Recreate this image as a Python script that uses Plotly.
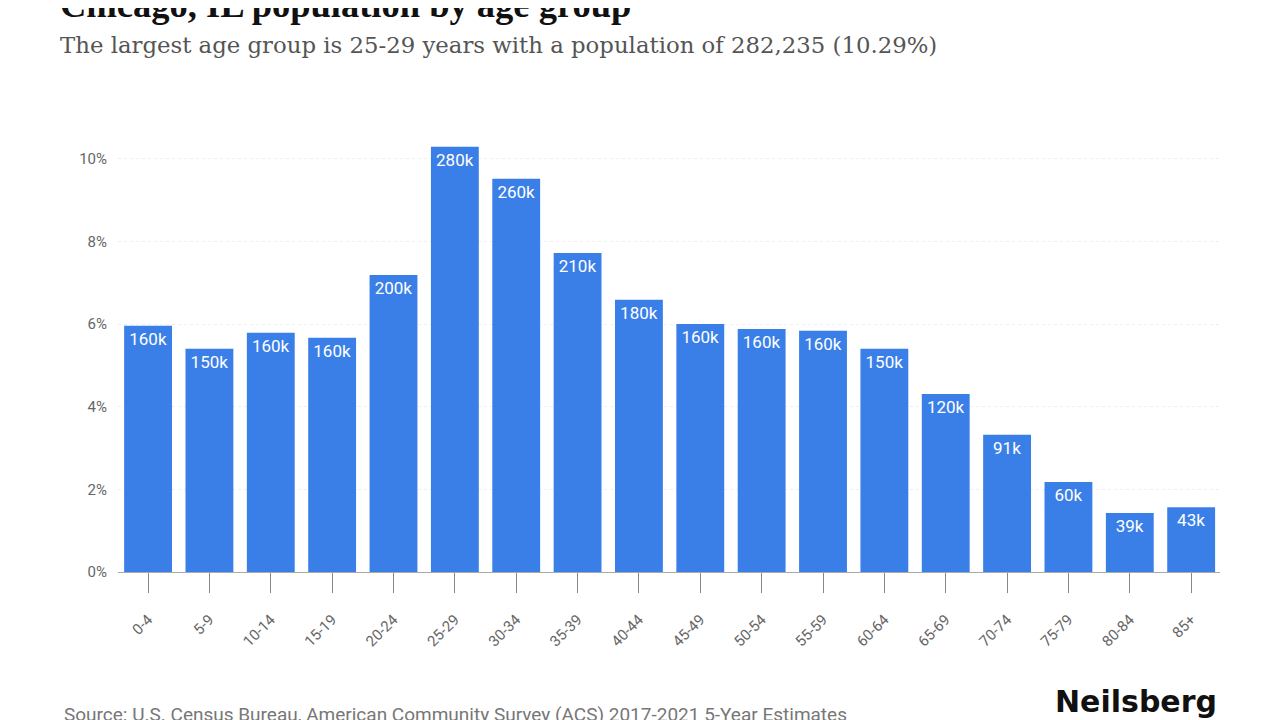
import plotly.graph_objects as go

age_groups = ["0-4", "5-9", "10-14", "15-19", "20-24", "25-29", "30-34", "35-39", "40-44",
              "45-49", "50-54", "55-59", "60-64", "65-69", "70-74", "75-79", "80-84", "85+"]
share_pct = [5.96, 5.40, 5.79, 5.67, 7.19, 10.29, 9.52, 7.72, 6.59,
             6.00, 5.88, 5.84, 5.40, 4.31, 3.32, 2.18, 1.43, 1.57]
bar_labels = ["160k", "150k", "160k", "160k", "200k", "280k", "260k", "210k", "180k",
              "160k", "160k", "160k", "150k", "120k", "91k", "60k", "39k", "43k"]
y_ticks = [0, 2, 4, 6, 8, 10]
y_tick_text = ["0%", "2%", "4%", "6%", "8%", "10%"]

title = "Chicago, IL population by age group"
subtitle = "The largest age group is 25-29 years with a population of 282,235 (10.29%)"
source = "Source: U.S. Census Bureau, American Community Survey (ACS) 2017-2021 5-Year Estimates"
brand = "Neilsberg"

# The page body adds an 8px offset; work in screen pixels and convert.
OFF = 8
FW, FH = 1279 - OFF, 720 - OFF
# plot area in screen pixels: x 118..1220, y 134..572
SL, SR, ST, SB = 118, 1220, 134, 572
L, T = SL - OFF, ST - OFF
R = FW - (SR - OFF)
B = FH - (SB - OFF)
W, H = FW - L - R, FH - T - B


def px(x):
    return (x - OFF - L) / W


def py(y):
    return (FH - B - (y - OFF)) / H


fig = go.Figure(go.Bar(
    x=age_groups, y=share_pct, text=bar_labels,
    textposition="inside", insidetextanchor="end", textangle=0,
    textfont=dict(color="white", size=17, family="Roboto"),
    marker=dict(color="#3A7FE8", line=dict(width=0)),
    width=0.78, hoverinfo="skip",
))

fig.update_layout(
    width=FW, height=FH,
    margin=dict(l=L, r=R, t=T, b=B),
    paper_bgcolor="white", plot_bgcolor="white",
    showlegend=False,
    uniformtext=dict(minsize=17, mode="show"),
    xaxis=dict(
        automargin=False,
        tickangle=-45, tickfont=dict(size=15, color="#666666", family="Roboto"),
        ticklabelstandoff=12,
        showline=True, linecolor="#aaaaaa", linewidth=1,
        ticks="outside", ticklen=20, tickcolor="#888888",
        showgrid=False, range=[-0.49, 17.47],
    ),
    yaxis=dict(
        automargin=False,
        range=[0, 10.6], tickvals=y_ticks, ticktext=y_tick_text,
        tickfont=dict(size=15, color="#666666", family="Roboto"),
        ticklabelstandoff=10,
        showgrid=True, gridcolor="#eeeeee", griddash="dot", zeroline=False,
        ticks="", showline=False,
    ),
    annotations=[
        dict(text="<b>" + title + "</b>", x=px(58), y=py(5), xref="paper", yref="paper",
             xanchor="left", yanchor="middle", showarrow=False,
             font=dict(size=36.5, color="#111111", family="Liberation Serif")),
        dict(text=subtitle, x=px(58), y=py(45), xref="paper", yref="paper",
             xanchor="left", yanchor="middle", showarrow=False,
             font=dict(size=22.8, color="#555555", family="DejaVu Serif")),
        dict(text=source, x=px(62), y=py(714), xref="paper", yref="paper",
             xanchor="left", yanchor="middle", showarrow=False,
             font=dict(size=19, color="#777777", family="Roboto")),
        dict(text="<b>" + brand + "</b>", x=px(1219), y=py(701), xref="paper", yref="paper",
             xanchor="right", yanchor="middle", showarrow=False,
             font=dict(size=30, color="#111111", family="DejaVu Sans")),
    ],
)

fig.write_html("out.html")
